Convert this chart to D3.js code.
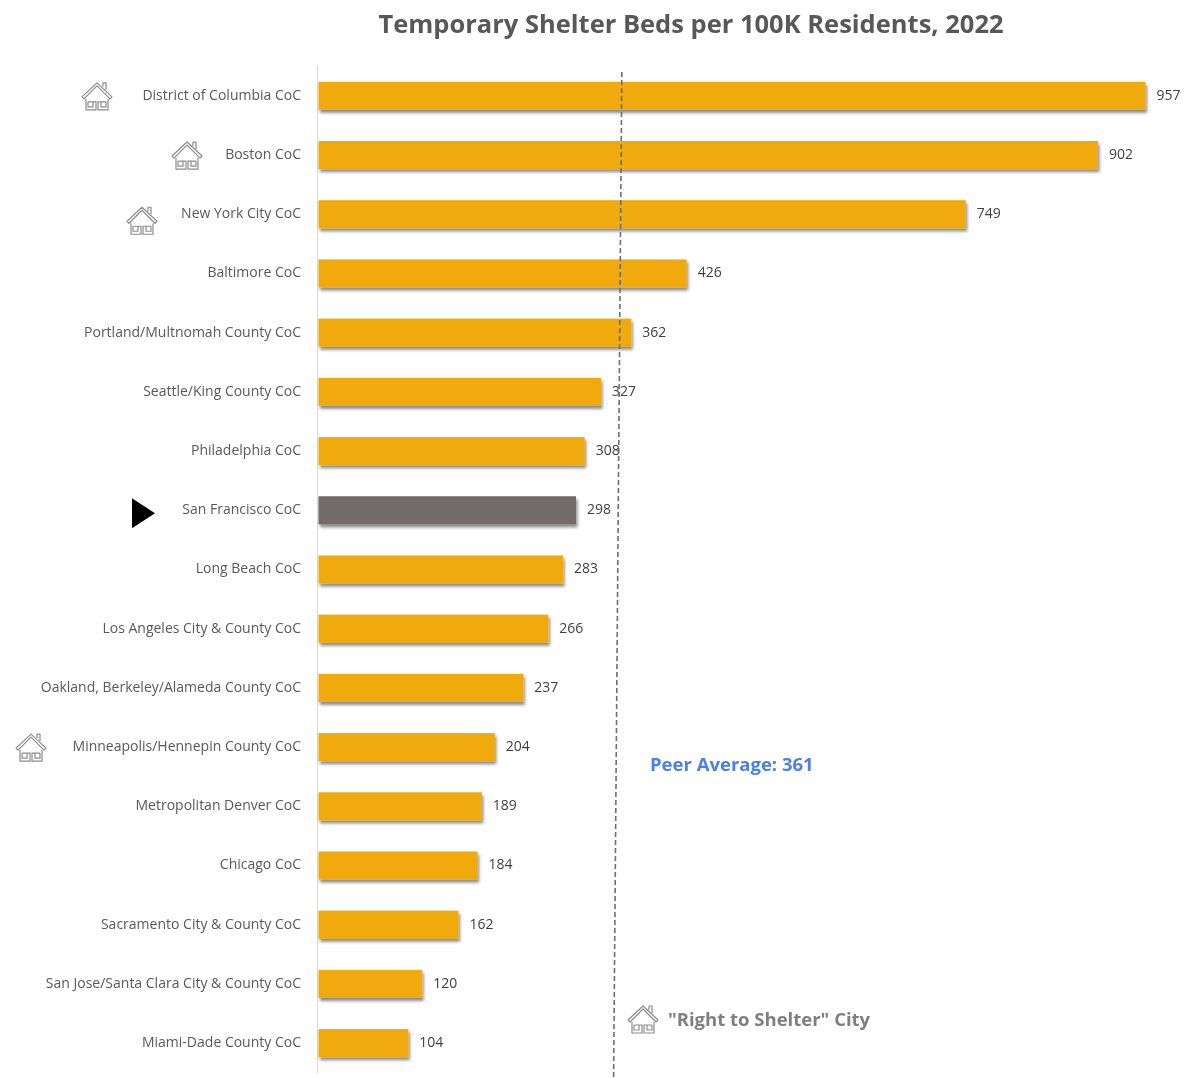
<!DOCTYPE html>
<html><head><meta charset="utf-8">
<script src="https://cdn.jsdelivr.net/npm/d3@7"></script>
<style>
html,body{margin:0;padding:0;background:#fff}
svg{display:block}
text{font-family:"Open Sans",sans-serif}
</style></head><body>
<svg id="c" width="1190" height="1078"></svg>
<script>
const categories=["District of Columbia CoC","Boston CoC","New York City CoC","Baltimore CoC","Portland/Multnomah County CoC","Seattle/King County CoC","Philadelphia CoC","San Francisco CoC","Long Beach CoC","Los Angeles City & County CoC","Oakland, Berkeley/Alameda County CoC","Minneapolis/Hennepin County CoC","Metropolitan Denver CoC","Chicago CoC","Sacramento City & County CoC","San Jose/Santa Clara City & County CoC","Miami-Dade County CoC"];
const values=[957,902,749,426,362,327,308,298,283,266,237,204,189,184,162,120,104];
const rightToShelter=["District of Columbia CoC","Boston CoC","New York City CoC","Minneapolis/Hennepin County CoC"];
const highlighted="San Francisco CoC";
const peerLabel="Peer Average: 361";
const peerLineEnds=[351,341.5];
const titleText="Temporary Shelter Beds per 100K Residents, 2022";
const legendText='"Right to Shelter" City';

const svg=d3.select("#c");
const defs=svg.append("defs");
const f=defs.append("filter").attr("id","sh").attr("x","-5%").attr("y","-30%").attr("width","110%").attr("height","170%");
f.append("feDropShadow").attr("dx",1.5).attr("dy",3).attr("stdDeviation",1.8).attr("flood-color","#000").attr("flood-opacity",0.45);
const b=defs.append("filter").attr("id","soft");
b.append("feGaussianBlur").attr("stdDeviation",0.35);

const x=d3.scaleLinear().domain([0,957]).range([318.5,1145.5]);
const y=d3.scaleBand().domain(categories).range([66.4,1072.6]).paddingInner(0.525).paddingOuter(0.26);
const root=svg.append("g");

root.append("text").attr("x",691).attr("y",33).attr("text-anchor","middle")
  .attr("font-size",25.5).attr("font-weight",700).attr("fill","#595959").text(titleText);

root.append("line").attr("x1",x(0)-1).attr("x2",x(0)-1).attr("y1",66).attr("y2",1073).attr("stroke","#d9d9d9").attr("stroke-width",1);

root.append("g").selectAll("rect").data(categories).join("rect")
  .attr("x",x(0)).attr("y",d=>y(d)).attr("height",y.bandwidth())
  .attr("width",(d,i)=>x(values[i])-x(0))
  .attr("fill",d=>d===highlighted?"#716c6a":"#f0aa0b")
  .attr("filter","url(#sh)");

root.append("g").selectAll("text").data(categories).join("text")
  .attr("x",301).attr("y",d=>y(d)+y.bandwidth()/2-1).attr("dy","0.35em").attr("text-anchor","end")
  .attr("font-size",14).attr("fill","#595959").text(d=>d);

root.append("g").selectAll("text").data(categories).join("text")
  .attr("x",(d,i)=>x(values[i])+11).attr("y",d=>y(d)+y.bandwidth()/2-1).attr("dy","0.35em")
  .attr("font-size",14).attr("fill","#404040").text((d,i)=>values[i]);

root.append("line").attr("x1",x(peerLineEnds[0])).attr("x2",x(peerLineEnds[1])).attr("y1",72).attr("y2",1078)
  .attr("stroke","#6e6e6e").attr("stroke-width",1.6).attr("stroke-dasharray","5 3");

root.append("text").attr("x",650).attr("y",771).attr("font-size",18.5).attr("font-weight",700).attr("fill","#4d7fe8").text(peerLabel);

function house(g){
  const s="#8c8c8c";
  g.append("path").attr("d","M-15,1 L0,-13 L15,1 L13,3 L0,-10 L-13,3 Z M6,-9 V-13 H9 V-6").attr("fill","#fff").attr("stroke",s).attr("stroke-width",1.2).attr("stroke-linejoin","round");
  g.append("path").attr("d","M-11,3 V14 H-1 V6 H-9 M11,3 V14 H1 V6 H9 M-9,6 V11 H-4 V6 M9,6 V11 H4 V6").attr("fill","none").attr("stroke",s).attr("stroke-width",1.2);
}
const houseOffset={"District of Columbia CoC":-204,"Boston CoC":-114,"New York City CoC":-159,"Minneapolis/Hennepin County CoC":-270};
rightToShelter.forEach((c,i)=>{
  const g=root.append("g").attr("transform",`translate(${301+houseOffset[c]},${y(c)+y.bandwidth()/2+(i===2?6:0)})`);
  house(g);
});
house(root.append("g").attr("transform","translate(643,1019)"));
root.append("text").attr("x",668).attr("y",1026).attr("font-size",18.5).attr("font-weight",700).attr("fill","#7f7f7f").text(legendText);

const sf=y(highlighted)+y.bandwidth()/2;
root.append("path").attr("transform",`translate(132,${sf+3})`).attr("d",d3.line()([[0,-15],[23,0],[0,15]])+"Z").attr("fill","#000");
root.attr("filter","url(#soft)");
</script></body></html>
